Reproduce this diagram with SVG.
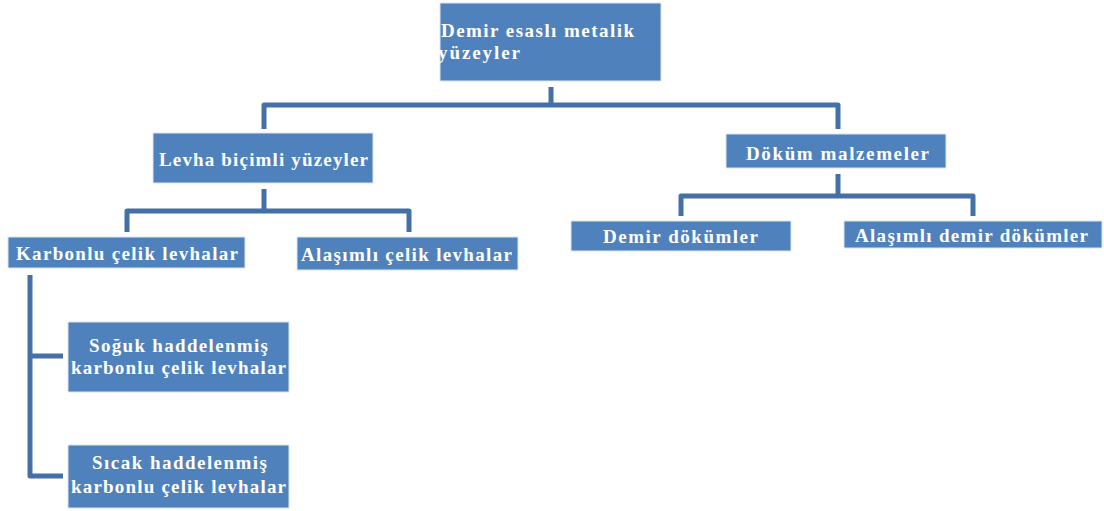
<svg xmlns="http://www.w3.org/2000/svg" width="1104" height="511" viewBox="0 0 1104 511">
<style>
.box{fill:#4F81BD;stroke:#dce6f2;stroke-width:1}
.lbl{fill:#ffffff;font-family:"Liberation Serif","DejaVu Serif",serif;font-weight:bold;font-size:19px}
.con{fill:none;stroke:#4470A8;stroke-width:5;stroke-linejoin:round;stroke-linecap:butt}
</style>
<rect width="1104" height="511" fill="#ffffff"/>
<g id="connectors">
<path class="con" d="M551,87 V105"/>
<path class="con" d="M264,129 V105 H838 V129"/>
<path class="con" d="M264,189 V211"/>
<path class="con" d="M127,232 V211 H409 V232"/>
<path class="con" d="M838,174 V196"/>
<path class="con" d="M681,216 V196 H973 V216"/>
<path class="con" d="M30,275 V476 H63"/>
<path class="con" d="M30,356 H63"/>
</g>
<g id="node-root">
<rect class="box" x="440" y="3" width="221" height="78"/>
<text class="lbl" x="441" y="37" textLength="193" lengthAdjust="spacing">Demir esaslı metalik</text>
<text class="lbl" x="438" y="59" textLength="82" lengthAdjust="spacing">yüzeyler</text>
</g>
<g id="node-levha">
<rect class="box" x="153" y="133" width="220" height="50"/>
<text class="lbl" x="159" y="166" textLength="209" lengthAdjust="spacing">Levha biçimli yüzeyler</text>
</g>
<g id="node-dokum">
<rect class="box" x="726" y="134" width="220" height="34"/>
<text class="lbl" x="746" y="160" textLength="183" lengthAdjust="spacing">Döküm malzemeler</text>
</g>
<g id="node-karbonlu">
<rect class="box" x="8" y="237" width="237" height="31"/>
<text class="lbl" x="16" y="260" textLength="222" lengthAdjust="spacing">Karbonlu çelik levhalar</text>
</g>
<g id="node-alasimli-celik">
<rect class="box" x="297" y="237" width="221" height="33"/>
<text class="lbl" x="301" y="261" textLength="211" lengthAdjust="spacing">Alaşımlı çelik levhalar</text>
</g>
<g id="node-demir-dokumler">
<rect class="box" x="571" y="221" width="220" height="30"/>
<text class="lbl" x="603" y="243" textLength="155" lengthAdjust="spacing">Demir dökümler</text>
</g>
<g id="node-alasimli-demir">
<rect class="box" x="844" y="221" width="258" height="27"/>
<text class="lbl" x="855" y="242" textLength="233" lengthAdjust="spacing">Alaşımlı demir dökümler</text>
</g>
<g id="node-soguk">
<rect class="box" x="68" y="322" width="221" height="70"/>
<text class="lbl" x="89" y="352" textLength="179" lengthAdjust="spacing">Soğuk haddelenmiş</text>
<text class="lbl" x="71" y="374" textLength="215" lengthAdjust="spacing">karbonlu çelik levhalar</text>
</g>
<g id="node-sicak">
<rect class="box" x="68" y="445" width="221" height="63"/>
<text class="lbl" x="92" y="469" textLength="175" lengthAdjust="spacing">Sıcak haddelenmiş</text>
<text class="lbl" x="71" y="493" textLength="215" lengthAdjust="spacing">karbonlu çelik levhalar</text>
</g>
</svg>
